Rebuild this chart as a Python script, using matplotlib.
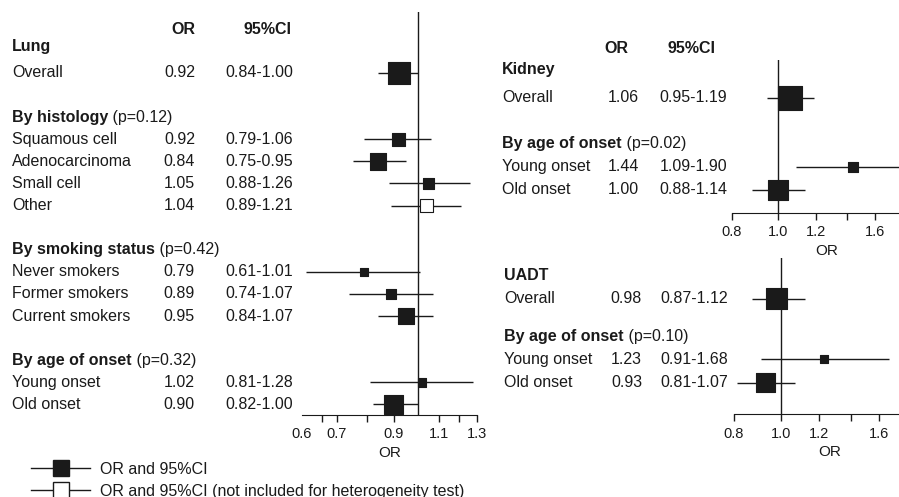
import numpy as np
import matplotlib.pyplot as plt
from matplotlib.transforms import blended_transform_factory
from matplotlib.lines import Line2D
from matplotlib.ticker import NullFormatter

plt.rcParams['font.family'] = ['Liberation Sans', 'DejaVu Sans']

W, H = 899, 497
FS = 11.5
INK = '#1a1a1a'

# ---------------------------
# 1. Data
# ---------------------------
lung_labels = ['Overall', 'Squamous cell', 'Adenocarcinoma', 'Small cell', 'Other',
               'Never smokers', 'Former smokers', 'Current smokers',
               'Young onset', 'Old onset']
lung_or = [0.92, 0.92, 0.84, 1.05, 1.04, 0.79, 0.89, 0.95, 1.02, 0.90]
lung_lo = [0.84, 0.79, 0.75, 0.88, 0.89, 0.61, 0.74, 0.84, 0.81, 0.82]
lung_hi = [1.00, 1.06, 0.95, 1.26, 1.21, 1.01, 1.07, 1.07, 1.28, 1.00]
lung_open = [False, False, False, False, True, False, False, False, False, False]
lung_groups = [('By histology', '(p=0.12)'),
               ('By smoking status', '(p=0.42)'),
               ('By age of onset', '(p=0.32)')]

kidney_labels = ['Overall', 'Young onset', 'Old onset']
kidney_or = [1.06, 1.44, 1.00]
kidney_lo = [0.95, 1.09, 0.88]
kidney_hi = [1.19, 1.90, 1.14]
kidney_groups = [('By age of onset', '(p=0.02)')]

uadt_labels = ['Overall', 'Young onset', 'Old onset']
uadt_or = [0.98, 1.23, 0.93]
uadt_lo = [0.87, 0.91, 0.81]
uadt_hi = [1.12, 1.68, 1.07]
uadt_groups = [('By age of onset', '(p=0.10)')]

fig = plt.figure(figsize=(W / 100, H / 100), dpi=100)


def px_rect(left, right, top, bottom):
    return [left / W, 1 - bottom / H, (right - left) / W, (bottom - top) / H]


def panel(rect, ylim, xlim, ticks, ticklabels, rows, group_rows, groups,
          labels, ors, los, his, opens, k, tx, title, title_y):
    ax = fig.add_axes(px_rect(*rect))
    ax.set_xscale('log')
    ax.set_xlim(*xlim)
    ax.set_ylim(*ylim)
    for s in ['top', 'left', 'right']:
        ax.spines[s].set_visible(False)
    ax.spines['bottom'].set_color(INK)
    ax.set_yticks([])
    ax.set_xticks(ticks)
    ax.set_xticklabels(ticklabels)
    ax.minorticks_off()
    ax.xaxis.set_minor_formatter(NullFormatter())
    ax.tick_params(axis='x', direction='out', length=5, width=1, colors=INK,
                   labelsize=10.5, pad=4)
    ax.set_xlabel('OR', fontsize=11, color=INK, labelpad=3)
    ax.axvline(1.0, color=INK, lw=1)

    # CI lines and squares (square side ~ 1 / width of log CI)
    ax.hlines(rows, los, his, color=INK, lw=1, zorder=2)
    side = k / (np.log(his) - np.log(los)) * 0.72
    face = ['white' if o else INK for o in opens]
    ax.scatter(ors, rows, s=side ** 2, marker='s', c=face, edgecolors=INK,
               linewidths=0.8, zorder=3)

    tr = blended_transform_factory(fig.transFigure, ax.transData)
    lx, orx, cix = [v / W for v in tx]
    ax.text(lx, title_y, title, transform=tr, fontweight='bold', fontsize=FS,
            va='center', ha='left', color=INK)
    for y, lab, o, lo, hi in zip(rows, labels, ors, los, his):
        ax.text(lx, y, lab, transform=tr, fontsize=FS, va='center', ha='left', color=INK)
        ax.text(orx, y, f'{o:.2f}', transform=tr, fontsize=FS, va='center', ha='right', color=INK)
        ax.text(cix, y, f'{lo:.2f}-{hi:.2f}', transform=tr, fontsize=FS, va='center',
                ha='right', color=INK)
    for y, (b, p) in zip(group_rows, groups):
        t = ax.text(lx, y, b, transform=tr, fontweight='bold', fontsize=FS,
                    va='center', ha='left', color=INK)
        ax.annotate(' ' + p, xy=(1, 0.5), xycoords=t, fontsize=FS, va='center',
                    ha='left', color=INK)
    return ax, tr


# ---------------------------
# 2. Lung panel
# ---------------------------
ax_l, tr_l = panel((302, 477, 12, 415), (15.48, -2.76), (0.6, 1.3),
                   [0.6, 0.7, 0.8, 0.9, 1.1, 1.2, 1.3],
                   ['0.6', '0.7', '', '0.9', '1.1', '', '1.3'],
                   [0, 3, 4, 5, 6, 9, 10, 11, 14, 15], [2, 8, 13], lung_groups,
                   lung_labels, lung_or, lung_lo, lung_hi, lung_open, 3.85,
                   (12, 195, 293), 'Lung', -1.18)
ax_l.xaxis.get_major_ticks()[0].tick1line.set_visible(False)
ax_l.set_xticks([0.655], minor=True)
ax_l.xaxis.set_minor_formatter(NullFormatter())
ax_l.tick_params(axis='x', which='minor', direction='out', length=5, width=1, colors=INK)
ax_l.text(195 / W, -1.99, 'OR', transform=tr_l, fontweight='bold', fontsize=FS,
          ha='right', va='center', color=INK)
ax_l.text(292 / W, -1.99, '95%CI', transform=tr_l, fontweight='bold', fontsize=FS,
          ha='right', va='center', color=INK)

# ---------------------------
# 3. Kidney panel
# ---------------------------
ax_k, tr_k = panel((732, 921, 60, 213), (5.0, -1.65), (0.8, 2.0),
                   [0.8, 1.0, 1.2, 1.4, 1.6], ['0.8', '1.0', '1.2', '', '1.6'],
                   [0, 3, 4], [2], kidney_groups,
                   kidney_labels, kidney_or, kidney_lo, kidney_hi,
                   [False] * 3, 5.3, (502, 639, 727), 'Kidney', -1.22)
ax_k.text(628 / W, -2.17, 'OR', transform=tr_k, fontweight='bold', fontsize=FS,
          ha='right', va='center', color=INK)
ax_k.text(715 / W, -2.17, '95%CI', transform=tr_k, fontweight='bold', fontsize=FS,
          ha='right', va='center', color=INK)

# ---------------------------
# 4. UADT panel
# ---------------------------
ax_u, tr_u = panel((734, 926, 258, 414), (5.0, -1.78), (0.8, 2.0),
                   [0.8, 1.0, 1.2, 1.4, 1.6], ['0.8', '1.0', '1.2', '', '1.6'],
                   [0, 2.61, 3.65], [1.65], uadt_groups,
                   uadt_labels, uadt_or, uadt_lo, uadt_hi,
                   [False] * 3, 5.3, (504, 642, 728), 'UADT', -1.0)

# ---------------------------
# 5. Legend
# ---------------------------
handles = [Line2D([], [], color=INK, lw=1, marker='s', markersize=11.5,
                  markerfacecolor=INK, markeredgecolor=INK),
           Line2D([], [], color=INK, lw=1, marker='s', markersize=11.5,
                  markerfacecolor='white', markeredgecolor=INK)]
fig.legend(handles, ['OR and 95%CI', 'OR and 95%CI (not included for heterogeneity test)'],
           loc='upper left', bbox_to_anchor=(31 / W, 1 - 462 / H), frameon=False,
           fontsize=FS, borderpad=0, borderaxespad=0, handlelength=3.7,
           handletextpad=0.63, labelspacing=0.43, numpoints=1, labelcolor=INK)

plt.savefig('out.png', dpi=100)
plt.close()
